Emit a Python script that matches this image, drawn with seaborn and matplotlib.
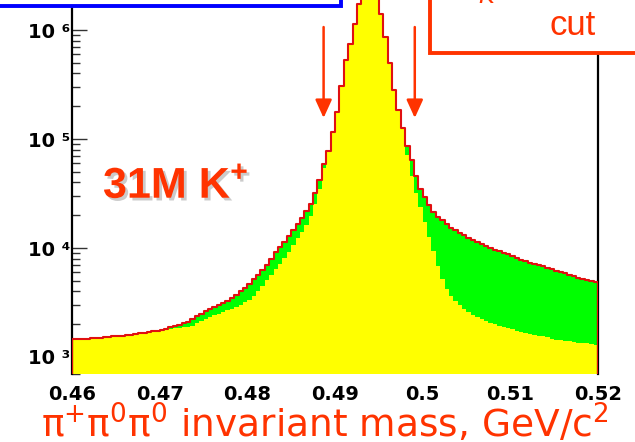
import matplotlib
matplotlib.use("Agg")
import matplotlib.pyplot as plt
import matplotlib.patheffects as pe
from matplotlib.patches import Rectangle
from matplotlib.ticker import LogLocator, FuncFormatter, NullFormatter
import numpy as np
import pandas as pd
import seaborn as sns

# histogram: 0.46 - 0.52 GeV/c^2, 0.5 MeV bins
mass_lo, mass_hi, bin_width = 0.46, 0.52, 0.0005

# all selected events (red outline, green fill)
all_events = [
    1463, 1463, 1478, 1478, 1494, 1494, 1494, 1526, 1526, 1542,
    1558, 1558, 1591, 1591, 1626, 1643, 1660, 1696, 1732, 1750,
    1769, 1806, 1884, 1924, 1966, 2051, 2095, 2232, 2378, 2481,
    2643, 2757, 2876, 3000, 3129, 3264, 3478, 3706, 4032, 4296,
    4674, 5195, 5653, 6283, 6983, 7930, 9190, 10210, 11350, 12890,
    14630, 16610, 18850, 21850, 25330, 31960, 42060, 58970, 77620, 115900,
    176900, 306300, 530800, 744100, 1135000, 1732000, 2875000, 4387000, 3405000, 2095000,
    1402000, 862800, 498100, 281600, 184600, 126200, 86260, 64180, 45780, 34780,
    29370, 24800, 21390, 19250, 18070, 16610, 15260, 14630, 13730, 13160,
    12350, 11840, 11350, 10880, 10430, 10000, 9587, 9387, 9094, 8810,
    8446, 8096, 7762, 7596, 7362, 7134, 6983, 6766, 6556, 6352,
    6152, 6024, 5836, 5653, 5535, 5362, 5195, 5086, 4980, 4876,
]

# events passing the extra selection (yellow fill)
selected_events = [
    1463, 1463, 1478, 1478, 1494, 1494, 1494, 1526, 1526, 1542,
    1558, 1558, 1591, 1591, 1626, 1643, 1660, 1696, 1732, 1750,
    1769, 1788, 1806, 1826, 1845, 1865, 1884, 1945, 2051, 2139,
    2232, 2328, 2403, 2481, 2588, 2671, 2757, 2876, 3000, 3195,
    3334, 3627, 4032, 4481, 5086, 5653, 6418, 7134, 8096, 9190,
    10650, 12350, 14030, 16260, 19670, 25330, 34780, 54200, 77620, 115900,
    176900, 306300, 530800, 744100, 1135000, 1732000, 2875000, 4387000, 3405000, 2095000,
    1402000, 862800, 498100, 281600, 184600, 126200, 71330, 45780, 31960, 23770,
    17320, 12610, 9387, 6838, 5195, 4206, 3627, 3264, 3000, 2757,
    2588, 2454, 2328, 2232, 2139, 2051, 1987, 1924, 1884, 1826,
    1788, 1732, 1696, 1660, 1626, 1591, 1558, 1542, 1510, 1478,
    1447, 1432, 1402, 1388, 1373, 1358, 1344, 1330, 1316, 1288,
]

cut_window = [0.4887, 0.4991]
x_ticks = [0.46, 0.47, 0.48, 0.49, 0.50, 0.51, 0.52]
x_tick_labels = ["0.46", "0.47", "0.48", "0.49", "0.5", "0.51", "0.52"]
sup_digits = {3: "³", 4: "⁴", 5: "⁵", 6: "⁶"}

RED_TXT = "#FF3300"
RED_LINE = "#E01010"
W, H = 635, 442

plt.rcParams["mathtext.fontset"] = "custom"
plt.rcParams["mathtext.rm"] = "DejaVu Sans"
plt.rcParams["mathtext.bf"] = "Liberation Sans:bold"
plt.rcParams["font.family"] = ["Liberation Sans", "DejaVu Sans"]

n_bins = len(all_events)
centers = mass_lo + bin_width * (np.arange(n_bins) + 0.5)
df = pd.DataFrame({"mass": centers, "all": all_events, "sel": selected_events})

fig = plt.figure(figsize=(W / 100, H / 100), dpi=100)
# axes runs a bit past the top of the picture, like the original slide
ax = fig.add_axes([72 / W, 68 / H, (598 - 72) / W, (462 - 68) / H])
ax.set_yscale("log")
ax.set_axisbelow(True)

hist_kw = dict(x="mass", bins=n_bins, binrange=(mass_lo, mass_hi), element="step", ax=ax)
sns.histplot(data=df, weights="all", fill=True, color="#00FF00", alpha=1,
             linewidth=0, **hist_kw)
sns.histplot(data=df, weights="sel", fill=True, color="#FFFF00", alpha=1,
             linewidth=0, **hist_kw)
sns.histplot(data=df, weights="all", fill=False, color=RED_LINE, linewidth=1.5,
             zorder=3, **hist_kw)
ax.vlines([mass_lo, mass_hi], 1, [all_events[0], all_events[-1]],
          color=RED_LINE, linewidth=1.5, zorder=3)

ax.set_xlim(mass_lo, mass_hi)
ax.set_ylim(10 ** 2.844, 10 ** 6.459)

for c in cut_window:
    ax.annotate("", xy=(c, 1.56e5), xytext=(c, 1.065e6),
                arrowprops=dict(arrowstyle="-|>,head_length=1.1,head_width=0.5",
                                color=RED_TXT, lw=1.8, shrinkA=0, shrinkB=0))

ax.yaxis.set_major_locator(LogLocator(base=10, numticks=10))
ax.yaxis.set_minor_locator(LogLocator(base=10, subs=np.arange(2, 10), numticks=20))
ax.yaxis.set_minor_formatter(NullFormatter())
ax.yaxis.set_major_formatter(FuncFormatter(
    lambda v, p: "10 " + sup_digits.get(round(np.log10(v)), "")))
ax.tick_params(axis="y", which="major", direction="in", length=11, width=1.0,
               color="#333333", labelsize=14, pad=1.5)
ax.tick_params(axis="y", which="minor", direction="in", length=6, width=1.0,
               color="#333333")
for lab in ax.get_yticklabels():
    lab.set_fontfamily("DejaVu Sans")
    lab.set_fontweight("bold")

ax.set_xticks(x_ticks)
ax.set_xticklabels(x_tick_labels, fontfamily="DejaVu Sans", fontweight="bold")
ax.tick_params(axis="x", length=0, labelsize=14, pad=8)

for s in ["left", "right"]:
    ax.spines[s].set_linewidth(1.6)
    ax.spines[s].set_color("black")
ax.spines["bottom"].set_visible(False)
ax.spines["top"].set_visible(False)
ax.set_xlabel("")
ax.set_ylabel("")

fig.text(103 / W, 1 - 198 / H, r"31M K$^{\mathbf{+}}$", fontsize=31,
         fontweight="bold", color=RED_TXT, va="baseline", ha="left",
         path_effects=[pe.SimplePatchShadow(offset=(2, -2), shadow_rgbFace="#999999",
                                            alpha=0.5), pe.Normal()])

fig.text(325 / W, 1 - 438 / H,
         r"π$^{+}$π$^{0}$π$^{0}$ invariant mass, GeV/c$^{2}$",
         fontsize=27, fontfamily="DejaVu Sans", color=RED_TXT,
         ha="center", va="baseline")

# boxes from the slide, partly outside the picture
fig.add_artist(Rectangle((-0.05, 1 - 6 / H), 341 / W + 0.05, 0.2,
                         transform=fig.transFigure, facecolor="white",
                         edgecolor="#0000FF", linewidth=2.8, zorder=5))
fig.add_artist(Rectangle((430 / W, 1 - 53 / H), 0.5, 0.3,
                         transform=fig.transFigure, facecolor="white",
                         edgecolor=RED_TXT, linewidth=2.8, zorder=5))
fig.text(573 / W, 1 - 35 / H, "cut", fontsize=25, color=RED_TXT,
         ha="center", va="baseline", zorder=6)
fig.text(498 / W, 1 + 3 / H, r"m$_{K}$", fontsize=25, color=RED_TXT,
         ha="right", va="baseline", zorder=6)

fig.savefig("out.png", dpi=100, facecolor="white")
